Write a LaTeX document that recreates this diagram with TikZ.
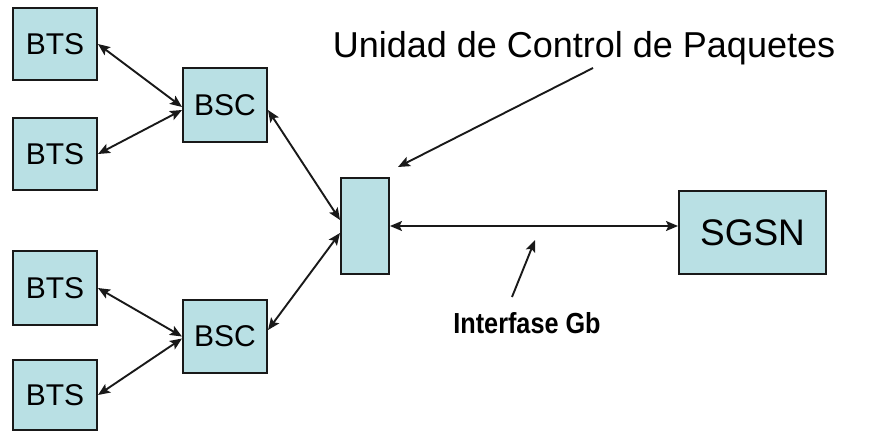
\documentclass[tikz,border=0pt]{standalone}
\usepackage{fontspec}
\setmainfont{Liberation Sans}
\newfontfamily\narrowbold[FakeStretch=0.87]{Liberation Sans}
\usetikzlibrary{arrows.meta}
\definecolor{boxcyan}{RGB}{185,224,228}
\definecolor{edgeink}{RGB}{25,25,25}

\begin{document}
\begin{tikzpicture}[x=1pt,y=-1pt,
  tip/.tip={Stealth[length=12pt,width=10pt,inset=2.5pt]},
  unit/.style={draw=edgeink, line width=2pt, fill=boxcyan, inner sep=0pt,
    font=\fontsize{30}{30}\selectfont},
  link/.style={draw=edgeink, line width=1.9pt, tip-tip},
  callout/.style={draw=edgeink, line width=1.9pt, -tip}]
\useasboundingbox (0,0) rectangle (872,431);

% base transceiver stations
\node[unit, minimum width=84pt, minimum height=72pt] (bts1) at (55,44) {BTS};
\node[unit, minimum width=84pt, minimum height=72pt] (bts2) at (55,154) {BTS};
\node[unit, minimum width=84pt, minimum height=74pt] (bts3) at (55,288) {BTS};
\node[unit, minimum width=84pt, minimum height=70pt] (bts4) at (55,395) {BTS};

% base station controllers
\node[unit, minimum width=84pt, minimum height=74pt] (bsc1) at (225,105) {BSC};
\node[unit, minimum width=84pt, minimum height=73pt] (bsc2) at (225,336.5) {BSC};

% packet control unit and serving node
\node[unit, minimum width=48pt, minimum height=96pt] (pcu) at (365,226) {};
\node[unit, minimum width=147pt, minimum height=83pt,
      font=\fontsize{37}{37}\selectfont] (sgsn) at (752.5,232.5) {SGSN};

% labels
\node[font=\fontsize{36}{36}\selectfont, inner sep=0pt] (pculabel) at (584,48)
  {Unidad de Control de Paquetes};
\node[font=\narrowbold\bfseries\fontsize{29}{29}\selectfont, inner sep=0pt] (gblabel)
  at (527,323) {Interfase Gb};

% links between elements
\draw[link] (bts1.east) -- ([yshift=-2pt]bsc1.west);
\draw[link] (bts2.east) -- ([yshift=-5pt]bsc1.west);
\draw[link] (bts3.east) -- ([yshift=0pt]bsc2.west);
\draw[link] (bts4.east) -- ([yshift=-2pt]bsc2.west);
\draw[link] ([yshift=-5pt]bsc1.east) -- ([yshift=6pt]pcu.west);
\draw[link] ([yshift=6.5pt]bsc2.east) -- ([yshift=-7pt]pcu.west);
\draw[link] (pcu.east) -- (pcu.east -| sgsn.west);

% pointers from the labels
\coordinate (pcutail) at (593,68);
\coordinate (pcuhead) at (398,167);
\coordinate (gbtail) at (512,297);
\coordinate (gbhead) at (535,240);
\draw[callout] (pcutail) -- (pcuhead);
\draw[callout] (gbtail) -- (gbhead);
\end{tikzpicture}
\end{document}
